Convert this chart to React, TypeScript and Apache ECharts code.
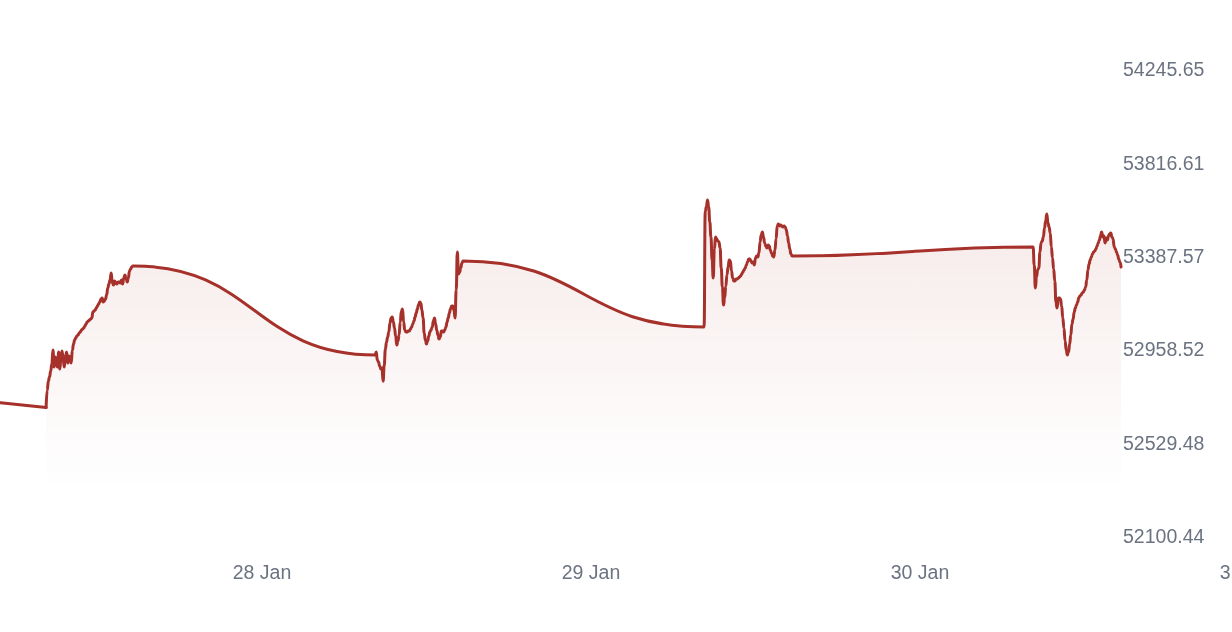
import React, { useEffect, useRef } from "react";
import * as echarts from "echarts";

// ---- data ----
const MONTHS = ["Jan", "Feb", "Mar", "Apr", "May", "Jun", "Jul", "Aug", "Sep", "Oct", "Nov", "Dec"];
const YEAR = 2025;
const SESSION_DAYS = [27, 28, 29, 30]; // January
const OPEN_HOUR = 8;
const OPEN_MINUTE = 15;
const STEP_MINUTES = 5;

const PRE_POINT_TIME = Date.UTC(YEAR, 0, 27, 3, 0);
const PRE_POINT_VALUE = 52725.2;

const session27 = [
  52690.7, 52771.2, 52812.6, 52831.0, 52858.6, 52890.8, 52955.2, 52877.0, 52923.0, 52895.4,
  52877.0, 52946.0, 52867.8, 52918.4, 52950.6, 52904.6, 52877.0, 52932.2, 52946.0, 52895.4,
  52927.6, 52909.2, 52895.4, 52955.2, 52982.8, 53001.2, 53010.4, 53019.6, 53024.2, 53033.4,
  53038.0, 53047.2, 53051.8, 53056.4, 53065.6, 53074.8, 53084.0, 53088.6, 53093.2, 53097.8,
  53102.4, 53130.0, 53134.6, 53139.2, 53148.4, 53157.6, 53166.8, 53176.0, 53189.8, 53194.4,
  53176.0, 53180.6, 53189.8, 53208.2, 53240.4, 53258.8, 53277.2, 53309.4, 53263.4, 53254.2,
  53272.6, 53263.4, 53258.8, 53268.0, 53268.0, 53263.4, 53277.2, 53258.8, 53286.4, 53300.2,
  53281.8, 53268.0, 53286.4, 53318.6, 53327.8, 53337.0, 53341.6, 53341.6,
];

const session28 = [
  52932.2, 52946.0, 52909.2, 52900.0, 52881.6, 52867.8, 52872.4, 52812.6, 52886.2, 52959.8,
  52992.0, 53015.0, 53038.0, 53079.4, 53102.4, 53107.0, 53084.0, 53056.4, 53019.6, 52978.2,
  52996.6, 53024.2, 53084.0, 53134.6, 53143.8, 53084.0, 53047.2, 53038.0, 53038.0, 53042.6,
  53042.6, 53051.8, 53061.0, 53074.8, 53088.6, 53107.0, 53125.4, 53143.8, 53162.2, 53176.0,
  53171.4, 53139.2, 53102.4, 53033.4, 53001.2, 52982.8, 52996.6, 53019.6, 53038.0, 53047.2,
  53061.0, 53088.6, 53102.4, 53074.8, 53047.2, 53024.2, 53005.8, 53015.0, 53042.6, 53042.6,
  53038.0, 53047.2, 53061.0, 53084.0, 53102.4, 53125.4, 53143.8, 53157.6, 53157.6, 53139.2,
  53102.4, 53231.2, 53406.0, 53304.8, 53314.0, 53332.8, 53355.4, 53364.6,
];

const session29 = [
  53061.0, 53594.6, 53613.0, 53645.2, 53613.0, 53544.0, 53475.0, 53369.2, 53286.4, 53419.8,
  53475.0, 53465.8, 53456.6, 53452.0, 53424.4, 53332.4, 53245.0, 53162.2, 53194.4, 53249.6,
  53300.2, 53337.0, 53369.2, 53364.6, 53318.6, 53286.4, 53272.6, 53272.6, 53281.8, 53281.8,
  53286.4, 53291.0, 53295.6, 53304.8, 53314.0, 53323.2, 53332.4, 53346.2, 53360.0, 53373.8,
  53373.8, 53364.6, 53355.4, 53360.0, 53346.2, 53378.4, 53387.6, 53383.0, 53401.4, 53452.0,
  53484.2, 53498.0, 53475.0, 53447.4, 53433.6, 53424.4, 53438.2, 53433.6, 53415.2, 53401.4,
  53387.6, 53383.0, 53415.2, 53465.8, 53525.6, 53534.8, 53525.6, 53530.2, 53525.6, 53521.0,
  53525.6, 53521.0, 53507.2, 53479.6, 53447.4, 53419.8, 53396.8, 53387.6,
];

const session30 = [
  53429.0, 53346.2, 53240.4, 53291.0, 53323.2, 53332.4, 53406.0, 53447.4, 53456.6, 53475.0,
  53516.4, 53548.6, 53580.8, 53539.4, 53521.0, 53493.4, 53429.0, 53378.4, 53327.8, 53272.6,
  53176.0, 53148.4, 53194.4, 53194.4, 53189.8, 53157.6, 53102.4, 53056.4, 52996.6, 52955.2,
  52932.2, 52946.0, 52982.8, 53024.2, 53074.8, 53097.8, 53130.0, 53148.4, 53162.2, 53176.0,
  53194.4, 53203.6, 53208.2, 53217.4, 53222.0, 53231.2, 53245.0, 53277.2, 53323.2, 53350.8,
  53369.2, 53383.0, 53396.8, 53406.0, 53410.6, 53419.8, 53433.6, 53447.4, 53461.2, 53479.6,
  53498.0, 53475.0, 53479.6, 53447.4, 53470.4, 53461.2, 53479.6, 53488.8, 53493.4, 53475.0,
  53465.8, 53429.0, 53419.8, 53406.0, 53392.2, 53373.8, 53360.0, 53337.0,
];

const SESSIONS = [session27, session28, session29, session30];

const Y_MIN = 52100.44;
const Y_MAX = 54245.65;
const Y_STEP = 429.042;

const X_MIN = Date.UTC(YEAR, 0, 27);
const X_MAX = Date.UTC(YEAR, 0, 31);
const DAY = 86400000;

// ---- styles ----
const LINE_COLOR = "#a6302a";
const LABEL_COLOR = "#6b7280";
const FONT = "'Liberation Sans', Arial, Helvetica, sans-serif";

export default function App() {
  const ref = useRef<HTMLDivElement>(null);

  useEffect(() => {
    if (!ref.current) return;
    const chart = echarts.init(ref.current, undefined, { renderer: "svg" });

    const mainData: [number, number][] = [];
    SESSIONS.forEach((vals, s) => {
      const open = Date.UTC(YEAR, 0, SESSION_DAYS[s], OPEN_HOUR, OPEN_MINUTE);
      vals.forEach((v, i) => {
        mainData.push([open + i * STEP_MINUTES * 60000, v]);
      });
    });
    const preData: [number, number][] = [
      [PRE_POINT_TIME, PRE_POINT_VALUE],
      [mainData[0][0], mainData[0][1]],
    ];

    const lineStyle = { color: LINE_COLOR, width: 3, cap: "round" as const, join: "round" as const };

    chart.setOption({
      animation: false,
      grid: { left: 33, right: 51, top: 69.3, bottom: 96, outerBoundsMode: "none" },
      xAxis: {
        type: "value",
        min: X_MIN,
        max: X_MAX,
        interval: DAY,
        axisLine: { show: false },
        axisTick: { show: false },
        splitLine: { show: false },
        axisLabel: {
          color: LABEL_COLOR,
          fontSize: 19.5,
          fontFamily: FONT,
          margin: 26,
          showMinLabel: false,
          formatter: (v: number) => {
            const d = new Date(v);
            return `${d.getUTCDate()} ${MONTHS[d.getUTCMonth()]}`;
          },
        },
      },
      yAxis: {
        type: "value",
        position: "right",
        offset: -128,
        min: Y_MIN,
        max: Y_MAX,
        interval: Y_STEP,
        axisLine: { show: false },
        axisTick: { show: false },
        splitLine: { show: false },
        axisLabel: {
          color: LABEL_COLOR,
          fontSize: 19.5,
          fontFamily: FONT,
          margin: 2,
          formatter: (v: number) => v.toFixed(2),
        },
      },
      series: [
        {
          type: "line",
          data: preData,
          showSymbol: false,
          silent: true,
          lineStyle,
        },
        {
          type: "line",
          data: mainData,
          smooth: true,
          smoothMonotone: "x",
          showSymbol: false,
          silent: true,
          lineStyle,
          areaStyle: {
            origin: "start",
            color: new echarts.graphic.LinearGradient(0, 0, 0, 1, [
              { offset: 0, color: "rgba(166,48,42,0.15)" },
              { offset: 0.45, color: "rgba(166,48,42,0.07)" },
              { offset: 0.86, color: "rgba(166,48,42,0)" },
            ]),
          },
        },
      ],
    });

    return () => chart.dispose();
  }, []);

  return (
    <div
      ref={ref}
      style={{ position: "fixed", left: -100, top: 0, width: 1400, height: 632 }}
    />
  );
}
